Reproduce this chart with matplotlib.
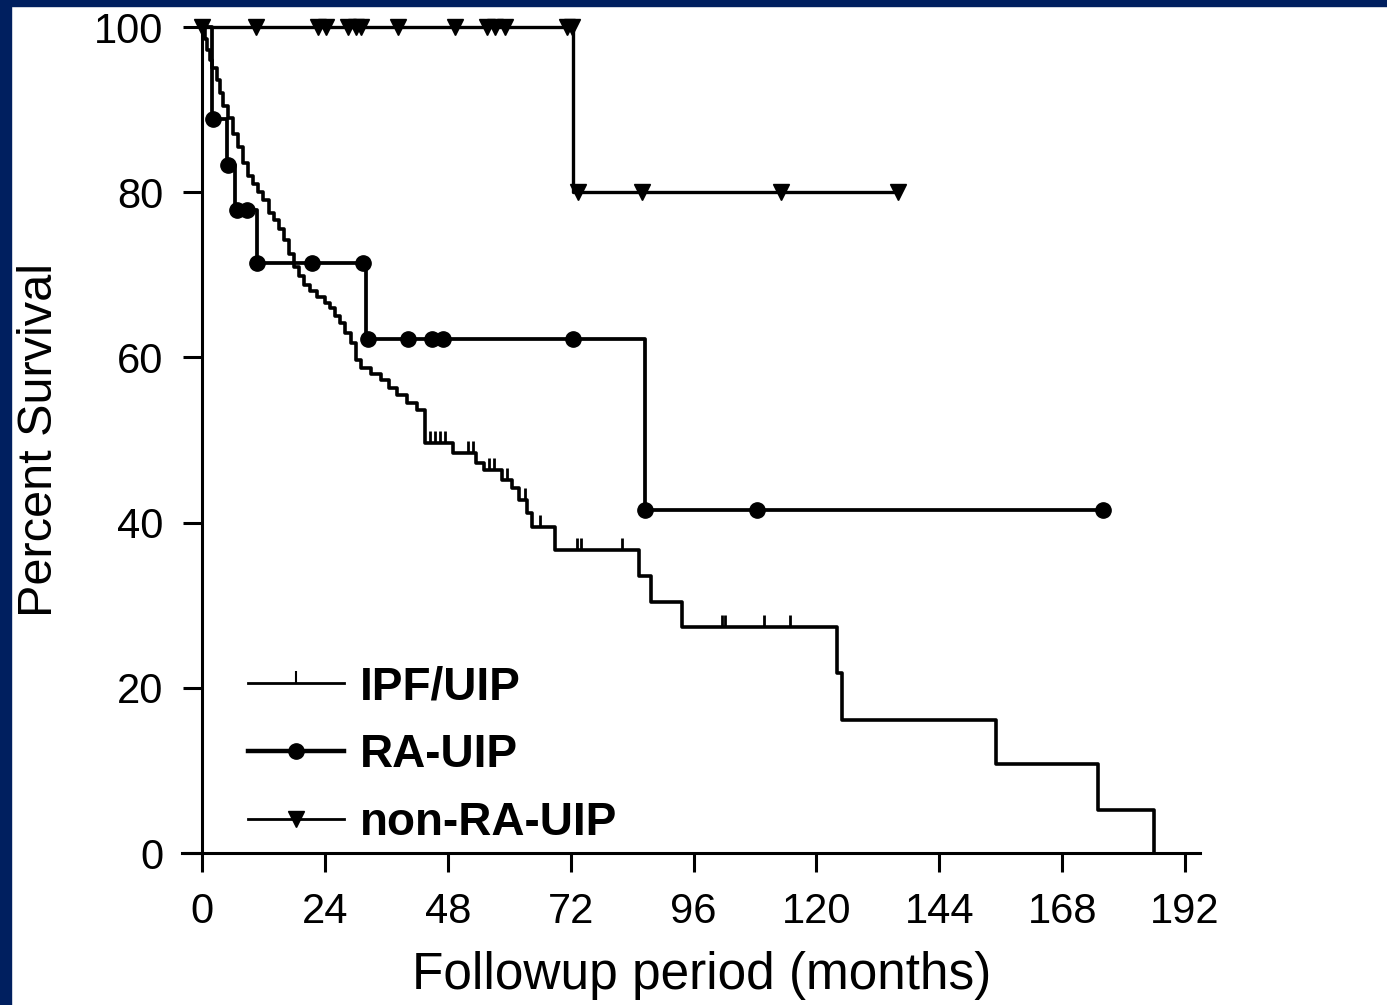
import numpy as np
import matplotlib.pyplot as plt
from matplotlib.lines import Line2D
from matplotlib.patches import Rectangle

plt.rcParams['font.family'] = ['Liberation Sans', 'DejaVu Sans']

# IPF/UIP Kaplan-Meier steps (months, percent surviving after each drop)
ipf_t = [0, 0.5, 1, 1.5, 2, 3, 3.5, 4, 5, 6, 7, 8, 9, 10, 11, 12, 13, 14, 15, 16,
         17, 18, 19, 20, 21, 22.5, 24, 25, 26, 27, 28, 29, 30, 31, 33, 35, 36.5, 38,
         40, 42, 43.5, 49, 53.5, 55, 58.5, 60.5, 62, 63.5, 64.5, 69, 85.3, 87.6,
         93.8, 124, 125, 155, 175, 186]
ipf_s = [100, 98.5, 97.2, 96, 95, 93.6, 92, 90.5, 89, 87, 85.5, 83.5, 82, 81, 80, 79,
         77.5, 76.6, 75.5, 74.2, 72.5, 71, 69.8, 68.8, 68.0, 67.3, 66.6, 66, 65, 64.2,
         63, 61.8, 59.7, 58.7, 58.0, 57.3, 56.3, 55.5, 54.5, 53.6, 49.6, 48.4, 47.2,
         46.4, 45.2, 44.2, 42.7, 41.2, 39.5, 36.7, 33.5, 30.4, 27.4, 21.8, 16.1, 10.8,
         5.2, 0]
ipf_cens = [44.5, 45.5, 46.5, 47.5, 52, 53, 56, 57, 59.5, 63, 66, 73.2, 74, 82,
            101.5, 102.2, 109.7, 114.8]

# RA-UIP
ra_t = [0, 2.0, 4.8, 6.5, 10.7, 32.0, 86.5]
ra_s = [100, 88.9, 83.3, 77.8, 71.4, 62.2, 41.5]
ra_end = 176
ra_marks = [2.1, 5.1, 6.8, 8.8, 10.7, 21.5, 31.4, 32.4, 40.2, 45, 47, 72.5, 86.5,
            108.4, 176]

# non-RA-UIP
nr_t = [0, 72.5]
nr_s = [100, 80]
nr_end = 136
nr_marks = [0, 10.5, 22.7, 24.2, 28.5, 30, 31, 38.3, 49.4, 55.7, 57.2, 59.2, 71.3,
            72.2, 73.4, 86, 113, 136]


def km_at(t_steps, s_steps, t):
    idx = np.searchsorted(t_steps, t, side='right') - 1
    return np.array(s_steps)[idx]


fig = plt.figure(figsize=(13.87, 10.05), dpi=100)
ax = fig.add_axes([0.1309, 0.1512, 0.7346, 0.8219])

# IPF/UIP
ax.step(ipf_t, ipf_s, where='post', color='black', lw=2.6, clip_on=False)
ax.plot(ipf_cens, km_at(ipf_t, ipf_s, ipf_cens), ls='none', marker=2,
        ms=9, mew=2, color='black', clip_on=False)

# RA-UIP
ax.step(ra_t + [ra_end], ra_s + [ra_s[-1]], where='post', color='black', lw=2.7,
        clip_on=False)
ax.plot(ra_marks, km_at(ra_t, ra_s, ra_marks), ls='none', marker='o', ms=11,
        color='black', clip_on=False)

# non-RA-UIP
ax.step(nr_t + [nr_end], nr_s + [nr_s[-1]], where='post', color='black', lw=2.4,
        clip_on=False)
ax.plot(nr_marks, km_at(nr_t, nr_s, nr_marks), ls='none', marker='v', ms=12,
        color='black', clip_on=False)

ax.set_xlim(-4, 195)
ax.set_ylim(0, 100)
ax.spines['left'].set_position(('data', 0))
ax.spines['top'].set_visible(False)
ax.spines['right'].set_visible(False)
for s in ['left', 'bottom']:
    ax.spines[s].set_linewidth(2.2)
ax.set_xticks(np.arange(0, 193, 24))
ax.set_yticks(np.arange(0, 101, 20))
ax.tick_params(direction='out', length=14, width=2.2, labelsize=30, pad=14)

ax.set_xlabel('Followup period (months)', fontsize=37)
ax.xaxis.set_label_coords(0.51, -0.118)
ax.set_ylabel('Percent Survival', fontsize=35)
ax.yaxis.set_label_coords(-0.117, 0.5)

handles = [
    Line2D([], [], color='black', lw=2, marker=2, ms=9, mew=1.5),
    Line2D([], [], color='black', lw=3.2, marker='o', ms=11),
    Line2D([], [], color='black', lw=2, marker='v', ms=11),
]
labels = ['IPF/UIP', 'RA-UIP', 'non-RA-UIP']
fig.legend(handles, labels, loc='lower left', bbox_to_anchor=(248 / 1387, 1 - 845 / 1005),
           frameon=False, numpoints=1, handlelength=2.1, handletextpad=0.35,
           labelspacing=0.52, borderpad=0, borderaxespad=0,
           prop={'size': 33, 'weight': 'bold'})

# dark blue slide border
navy = '#001f5f'
fig.patches.append(Rectangle((0, 0), 11 / 1387, 1, transform=fig.transFigure,
                             color=navy, zorder=10))
fig.patches.append(Rectangle((0, 1 - 6 / 1005), 1, 6 / 1005, transform=fig.transFigure,
                             color=navy, zorder=10))

fig.savefig('out.png', dpi=100)
